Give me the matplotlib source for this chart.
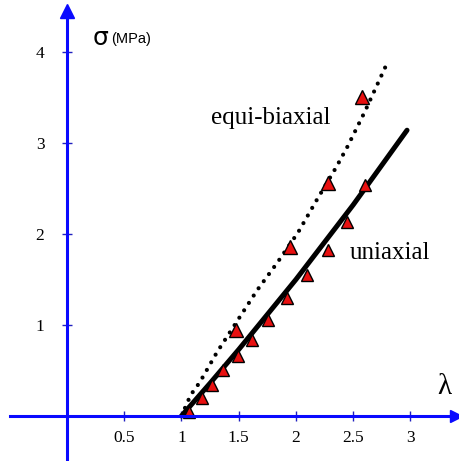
import matplotlib
matplotlib.use("Agg")
import matplotlib.pyplot as plt

# uniaxial model curve and test points
uni_x = [1.0, 1.25, 1.5, 2.0, 2.5, 2.97]
uni_y = [0.0, 0.36, 0.73, 1.5, 2.32, 3.14]
uni_pts_x = [1.07, 1.18, 1.27, 1.36, 1.49, 1.62, 1.76, 1.92, 2.10, 2.28, 2.45, 2.60]
uni_pts_y = [0.04, 0.20, 0.34, 0.50, 0.66, 0.83, 1.05, 1.30, 1.55, 1.82, 2.13, 2.54]

# equi-biaxial model curve and test points
bi_x = [1.0, 1.08, 1.16, 1.31, 1.66, 1.84, 2.02, 2.18, 2.35, 2.45, 2.6, 2.79]
bi_y = [0.0, 0.23, 0.37, 0.70, 1.38, 1.69, 2.02, 2.37, 2.73, 2.96, 3.34, 3.86]
bi_pts_x = [1.48, 1.95, 2.28, 2.58]
bi_pts_y = [0.95, 1.86, 2.56, 3.50]

xticks = [0.5, 1, 1.5, 2, 2.5, 3]
xtick_labels = ["0.5", "1", "1.5", "2", "2.5", "3"]
yticks = [1, 2, 3, 4]

blue = "#0a0aff"
serif = "Liberation Serif"

fig = plt.figure(figsize=(4.59, 4.61), dpi=100)
ax = fig.add_axes([0, 0, 1, 1])
ax.set_xlim(-0.585, 3.424)
ax.set_ylim(-0.495, 4.571)

for s in ["top", "right"]:
    ax.spines[s].set_visible(False)
ax.spines["left"].set_position(("data", 0))
ax.spines["bottom"].set_position(("data", 0))
ax.spines["left"].set_bounds(-0.495, 4.45)
ax.spines["bottom"].set_bounds(-0.5, 3.40)
for s in ["left", "bottom"]:
    ax.spines[s].set_color(blue)
    ax.spines[s].set_linewidth(2.2)

# arrow heads
ax.plot([0], [4.45], marker="^", color=blue, markersize=10, clip_on=False)
ax.plot([3.40], [0], marker=">", color=blue, markersize=9, clip_on=False)

ax.set_xticks(xticks)
ax.set_xticklabels(xtick_labels)
ax.set_yticks(yticks)
ax.tick_params(direction="inout", length=6.5, width=1.0, color="#2020c0",
               labelsize=12.5)
ax.tick_params(axis="x", pad=7)
ax.tick_params(axis="y", pad=13)
for lab in ax.get_xticklabels() + ax.get_yticklabels():
    lab.set_fontfamily(serif)

ax.plot(uni_x, uni_y, color="black", linewidth=3.6, solid_capstyle="round")
ax.plot(bi_x, bi_y, color="black", linewidth=3.0,
        linestyle=(0, (0.01, 2.1)), dash_capstyle="round")

ax.plot(uni_pts_x, uni_pts_y, linestyle="none", marker="^", markersize=8,
        markerfacecolor="#e81010", markeredgecolor="black", markeredgewidth=1.0)
ax.plot(bi_pts_x, bi_pts_y, linestyle="none", marker="^", markersize=10,
        markerfacecolor="#e81010", markeredgecolor="black", markeredgewidth=1.0)

ax.text(0.22, 4.15, "σ", fontsize=18, family="DejaVu Sans", va="center")
ax.text(0.385, 4.14, "(MPa)", fontsize=10.5, family="Liberation Sans",
        va="center")
ax.text(1.78, 3.27, "equi-biaxial", fontsize=18, family=serif,
        ha="center", va="center")
ax.text(2.82, 1.79, "uniaxial", fontsize=18, family=serif,
        ha="center", va="center")
ax.text(3.30, 0.32, "λ", fontsize=21, family=serif, ha="center", va="center")

fig.savefig("out.png", dpi=100)
